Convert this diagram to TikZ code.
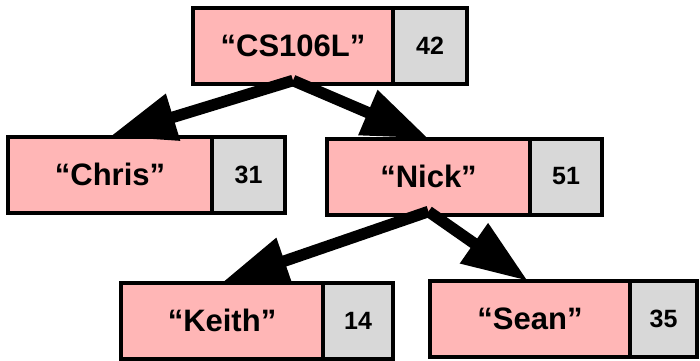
\documentclass[tikz,border=0pt]{standalone}
\usepackage{fontspec}
\setmainfont{Liberation Sans}
\usetikzlibrary{arrows.meta}
\definecolor{keyfill}{HTML}{FFB6B6}
\definecolor{valfill}{HTML}{D8D8D8}
\tikzset{
  keybox/.style={draw=black, line width=4pt, fill=keyfill, minimum height=76pt,
    inner sep=0pt, outer sep=0pt, font=\fontsize{31}{31}\selectfont\bfseries},
  valbox/.style={draw=black, line width=4pt, fill=valfill, anchor=west, minimum height=76pt,
    inner sep=0pt, outer sep=0pt, font=\fontsize{25}{25}\selectfont\bfseries},
  link/.style={line width=11.5pt, -{Triangle[length=66pt,width=46pt]}}
}
\begin{document}
\begin{tikzpicture}[x=1pt,y=-1pt]
  \useasboundingbox (0,0) rectangle (700,360);
  % tree entries: key box with its value box attached on the right
  \node[keybox, minimum width=200pt] (root) at (293,45.5) {“CS106L”};
  \node[valbox, minimum width=74pt] (rootv) at (root.east) {42};
  \node[keybox, minimum width=204pt] (chris) at (110,174.5) {“Chris”};
  \node[valbox, minimum width=73pt] (chrisv) at (chris.east) {31};
  \node[keybox, minimum width=203pt] (nick) at (428.5,176.5) {“Nick”};
  \node[valbox, minimum width=72pt] (nickv) at (nick.east) {51};
  \node[keybox, minimum width=202pt] (keith) at (222,320.5) {“Keith”};
  \node[valbox, minimum width=70pt] (keithv) at (keith.east) {14};
  \node[keybox, minimum width=200pt] (sean) at (530,319) {“Sean”};
  \node[valbox, minimum width=67pt] (seanv) at (sean.east) {35};
  % child links, starting just inside the parent's lower edge
  \draw[link] ([yshift=3pt]root.south) -- (chris.north);
  \draw[link] ([yshift=3pt]root.south) -- (nick.north);
  \draw[link] ([yshift=3pt]nick.south) -- (keith.north);
  \draw[link] ([yshift=3pt]nick.south) -- ([xshift=-2pt]sean.north);
\end{tikzpicture}
\end{document}
